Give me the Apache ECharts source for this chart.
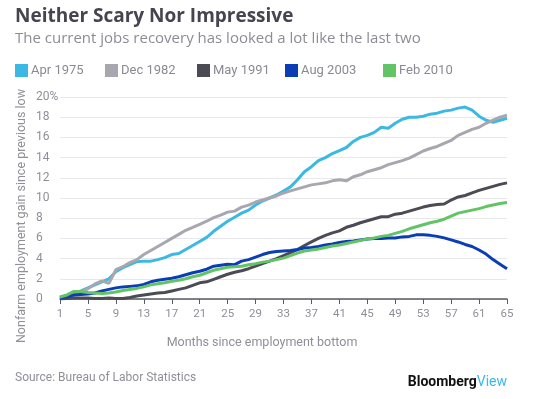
<!DOCTYPE html>
<html>
<head>
<meta charset="utf-8">
<title>Neither Scary Nor Impressive</title>
<script src="https://cdn.jsdelivr.net/npm/echarts@6/dist/echarts.min.js"></script>
<style>
  html, body { margin: 0; padding: 0; background: #fff; }
  #chart { width: 538px; height: 399px; }
</style>
</head>
<body>
<div id="chart"></div>
<script>
// months since employment bottom
var months = [];
for (var m = 1; m <= 65; m++) months.push(String(m));

// percent gain since previous low
var apr1975 = [0.1,0.3,0.55,0.8,1.1,1.4,1.7,2.0,2.7,3.1,3.4,3.7,3.75,3.75,3.9,4.1,4.4,4.5,4.9,5.3,
  5.7,6.1,6.7,7.2,7.7,8.1,8.5,8.8,9.3,9.7,10.0,10.3,10.7,11.1,11.8,12.6,13.1,13.7,14.0,14.4,
  14.7,15.0,15.6,16.0,16.2,16.5,17.0,16.9,17.4,17.8,18.0,18.0,18.1,18.3,18.4,18.6,18.7,18.9,19.0,18.7,
  18.1,17.7,17.5,17.7,17.9];
var dec1982 = [0.2,0.3,0.4,0.7,1.0,1.5,1.8,1.55,2.9,3.2,3.6,3.9,4.4,4.8,5.2,5.6,6.0,6.4,6.8,7.1,
  7.4,7.7,8.05,8.3,8.6,8.7,9.1,9.3,9.6,9.8,10.0,10.2,10.5,10.7,10.9,11.1,11.3,11.4,11.5,11.7,
  11.8,11.7,12.1,12.3,12.6,12.8,13.0,13.3,13.5,13.7,13.95,14.3,14.65,14.9,15.1,15.4,15.7,16.2,16.5,16.8,
  17.0,17.4,17.7,18.0,18.2];
var may1991 = [0.0,0.05,0.1,0.1,0.1,0.05,0.05,0.1,0.05,0.05,0.15,0.3,0.4,0.5,0.6,0.65,0.8,0.95,1.1,1.35,
  1.6,1.7,1.95,2.2,2.45,2.65,2.8,3.0,3.25,3.5,3.75,4.0,4.3,4.6,4.9,5.3,5.65,6.0,6.3,6.55,
  6.75,7.1,7.3,7.55,7.75,7.95,8.15,8.15,8.4,8.5,8.7,8.9,9.1,9.25,9.35,9.4,9.8,10.1,10.25,10.5,
  10.75,10.95,11.15,11.35,11.5];
var aug2003 = [0.1,0.25,0.4,0.45,0.5,0.6,0.8,0.95,1.1,1.2,1.25,1.3,1.45,1.7,1.85,1.95,2.05,2.2,2.4,2.6,
  2.75,2.95,3.25,3.35,3.45,3.4,3.75,3.9,4.15,4.4,4.6,4.7,4.75,4.8,4.9,5.05,5.1,5.2,5.35,5.45,
  5.6,5.7,5.75,5.85,5.95,6.0,6.0,6.05,6.05,6.15,6.2,6.35,6.35,6.3,6.2,6.05,5.85,5.65,5.4,5.2,
  4.85,4.45,3.9,3.45,3.0];
var feb2010 = [0.2,0.4,0.75,0.75,0.65,0.6,0.55,0.6,0.7,0.85,0.95,1.05,1.2,1.4,1.5,1.6,1.75,1.85,2.0,2.2,
  2.35,2.6,2.85,3.0,3.15,3.2,3.25,3.4,3.5,3.65,3.75,3.9,4.05,4.3,4.55,4.75,4.85,4.95,5.1,5.25,
  5.35,5.5,5.65,5.8,5.95,6.05,6.2,6.3,6.5,6.7,6.95,7.15,7.35,7.55,7.7,7.9,8.2,8.5,8.65,8.8,
  8.95,9.15,9.3,9.45,9.55];

var names = ['Apr 1975', 'Dec 1982', 'May 1991', 'Aug 2003', 'Feb 2010'];
var colors = ['#3cb8e4', '#a8a7af', '#4b4b55', '#0b3db5', '#62c466'];
var values = [apr1975, dec1982, may1991, aug2003, feb2010];
var legendLeft = [10, 100, 192, 280, 378];

var FONT = 'Roboto, "Noto Sans", sans-serif';
var WIDE = '"Open Sans", Roboto, sans-serif';
var chart = echarts.init(document.getElementById('chart'));

var series = [];
var legends = [];
for (var i = 0; i < names.length; i++) {
  series.push({
    name: names[i],
    type: 'line',
    data: values[i],
    symbol: 'none',
    lineStyle: { width: 3, color: colors[i] },
    itemStyle: { color: colors[i] },
    z: 2 + i
  });
  legends.push({
    data: [names[i]],
    left: legendLeft[i],
    top: 59,
    icon: 'rect',
    itemWidth: 13,
    itemHeight: 13,
    itemGap: 6,
    selectedMode: false,
    textStyle: { color: '#8a8a94', fontSize: 13, fontFamily: FONT, padding: [0, 0, 0, -2] }
  });
}

var option = {
  backgroundColor: '#fff',
  animation: false,
  title: {
    text: 'Neither Scary Nor Impressive',
    subtext: 'The current jobs recovery has looked a lot like the last two',
    left: 10,
    top: 2,
    itemGap: 5,
    textStyle: { color: '#45454f', fontSize: 19, fontWeight: 'bold', fontFamily: WIDE },
    subtextStyle: { color: '#8c8c96', fontSize: 15, fontFamily: WIDE }
  },
  legend: legends,
  grid: { left: 60, right: 31, top: 97, bottom: 100 },
  xAxis: {
    type: 'category',
    data: months,
    boundaryGap: false,
    axisLine: { lineStyle: { color: '#5a5a66', width: 1.5 } },
    axisTick: { interval: 3, length: 5, lineStyle: { color: '#5a5a66' } },
    axisLabel: { interval: 3, color: '#8f8f99', fontSize: 11.5, fontFamily: FONT, margin: 9 }
  },
  yAxis: {
    type: 'value',
    min: 0,
    max: 20,
    interval: 2,
    axisLine: { show: false },
    axisTick: { show: false },
    splitLine: { lineStyle: { color: '#e8e8ec' } },
    axisLabel: {
      color: '#8f8f99', fontSize: 12, fontFamily: FONT, align: 'left', margin: 24,
      formatter: function (v) { return v === 20 ? '20%' : String(v); }
    }
  },
  graphic: [
    {
      type: 'text', x: 22, y: 216, rotation: Math.PI / 2,
      style: {
        text: 'Nonfarm employment gain since previous low',
        fill: '#8f8f99', font: '12.5px ' + FONT, align: 'center', verticalAlign: 'middle'
      }
    },
    {
      type: 'text', x: 262, y: 343,
      style: {
        text: 'Months since employment bottom',
        fill: '#8f8f99', font: '12.5px ' + FONT, align: 'center', verticalAlign: 'middle'
      }
    },
    {
      type: 'text', x: 15, y: 378,
      style: {
        text: 'Source: Bureau of Labor Statistics',
        fill: '#8f8f99', font: '12px ' + FONT, align: 'left', verticalAlign: 'middle'
      }
    },
    {
      type: 'text', x: 507, y: 382,
      style: {
        text: '{b|Bloomberg}{v|View}',
        align: 'right', verticalAlign: 'middle',
        rich: {
          b: { fill: '#111', font: 'bold 14px ' + FONT },
          v: { fill: '#3cb8e4', font: '14px ' + FONT }
        }
      }
    }
  ],
  series: series
};

chart.setOption(option);
</script>
</body>
</html>
